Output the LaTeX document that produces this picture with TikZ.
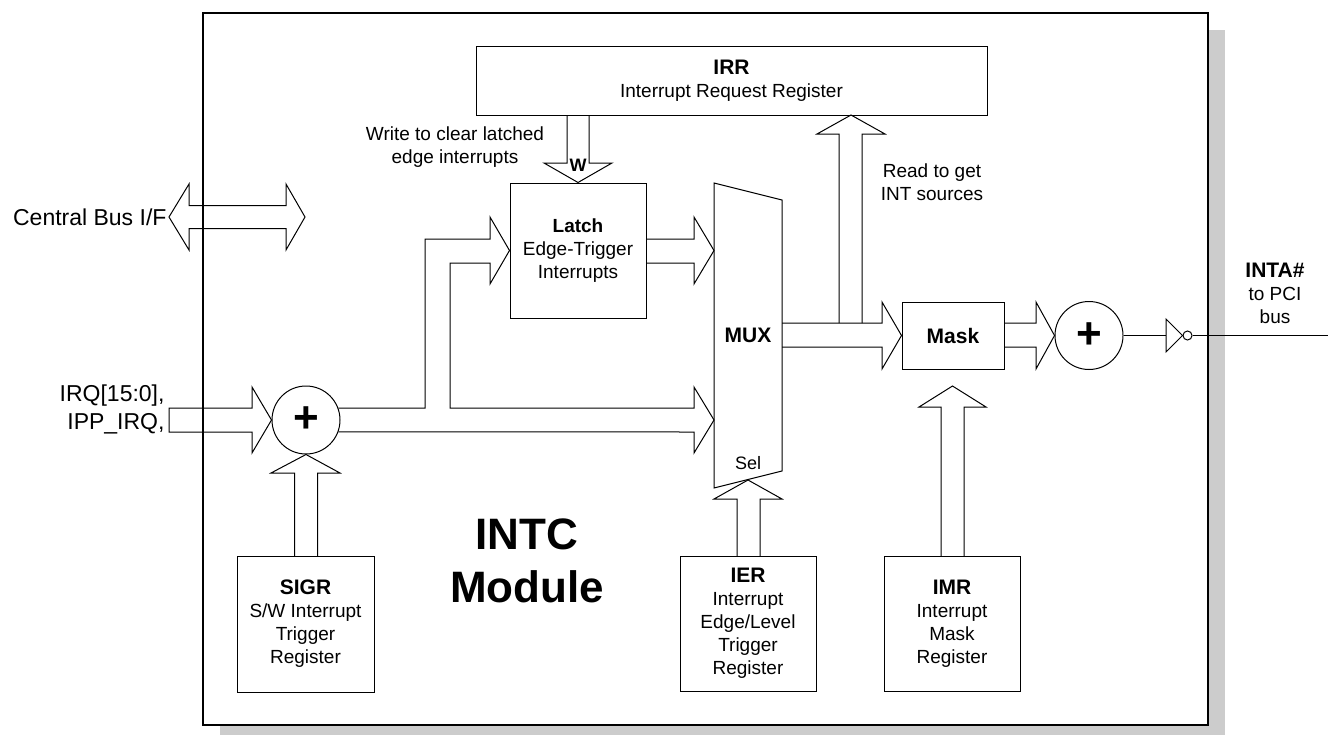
\documentclass[tikz,border=0pt]{standalone}
\usepackage{fontspec}
\setmainfont{Liberation Sans}
\newcommand{\regname}[1]{{\bfseries\fontsize{21}{23}\selectfont #1}}

\begin{document}
\begin{tikzpicture}[x=1pt, y=-1pt, line width=1pt,
  txt/.style={font=\fontsize{19}{23}\selectfont, align=center},
  lbl/.style={font=\fontsize{23}{28}\selectfont, align=right, anchor=east, inner sep=2pt},
  reg/.style={draw, txt, inner sep=0pt, minimum width=136, minimum height=135},
  adder/.style={draw, circle, inner sep=0pt, minimum size=68, font=\bfseries\fontsize{44}{44}\selectfont}]
  \useasboundingbox (0,0) rectangle (1335,734);

  % module frame with shadow
  \fill[gray!40] (220,30) rectangle (1225,742);
  \draw[fill=white, line width=1.3pt] (203,13) rectangle (1208,725);
  \node[font=\bfseries\fontsize{44}{53}\selectfont, align=center] (intc) at (527,561) {INTC\\Module};

  %-------------
  \node[reg, minimum width=511, minimum height=69] (irr) at (731.5,80.5) {\regname{IRR}\\Interrupt Request Register};
  \node[reg] (latch) at (578,250.5) {{\bfseries Latch}\\Edge-Trigger\\Interrupts};
  \node[reg, minimum width=102, minimum height=67] (mask) at (953,335.5) {\regname{Mask}};
  \node[reg, minimum width=137, minimum height=136] (sigr) at (305.5,624) {\regname{SIGR}\\S/W Interrupt\\Trigger\\Register};
  \node[reg] (ier) at (748,623.5) {\regname{IER}\\Interrupt\\Edge/Level\\Trigger\\Register};
  \node[reg] (imr) at (952,623.5) {\regname{IMR}\\Interrupt\\Mask\\Register};

  \node[adder] (add1) at (306,420) {+};
  \node[adder] (add2) at (1089,335.5) {+};

  % mux
  \draw (714,183) -- (782,200) -- (782,471) -- (714,488) -- cycle;
  \node (mux) at (748,335) {\regname{MUX}};
  \node[font=\fontsize{18}{20}\selectfont] (sel) at (748,463) {Sel};
  \coordinate (mux-a) at (714,250.5);
  \coordinate (mux-b) at (714,420);
  \coordinate (mux-s) at (748,480);

  %-------------
  \node[lbl] (cbus) at (169,217) {Central Bus I/F};
  \node[lbl] (irq) at (167,409) {IRQ[15:0],\\IPP\_IRQ,};
  \node[txt] (wnote) at (455,147) {Write to clear latched\\edge interrupts};
  \node[txt] (rnote) at (932,182) {Read to get\\INT sources};
  \node[txt] (inta) at (1275,293) {\regname{INTA\#}\\to PCI\\bus};

  % bus arrows
  \draw (cbus.east) -- (189,184) -- (189,205.5) -- (286,205.5) -- (286,184) -- (305,217)
    -- (286,250) -- (286,228.5) -- (189,228.5) -- (189,250) -- cycle;

  \draw (169,408) -- (252,408) -- (252,387) -- (add1.west) -- (252,453) -- (252,432) -- (169,432) -- cycle;

  \draw (add1.20) -- (425,408) -- (425,239) -- (490,239) -- (490,217) -- (latch.west) -- (490,284)
    -- (490,263) -- (450,263) -- (450,408) -- (694,408) -- (694,387) -- (mux-b) -- (694,453)
    -- (694,432) -- (add1.-20);

  \draw (646,239) -- (694,239) -- (694,217) -- (mux-a) -- (694,284) -- (694,263) -- (646,263);

  \draw (567,115) -- (567,163) -- (544,163) -- (latch.north) -- (612,163) -- (589,163) -- (589,115);
  \node[font=\bfseries\fontsize{18}{20}\selectfont] (w) at (578,165) {W};

  \draw (839,323) -- (839,134) -- (817,134) -- (851,115) -- (885,134) -- (862,134) -- (862,323);

  \draw (782,323) -- (882,323) -- (882,302) -- (mask.west) -- (882,369) -- (882,347) -- (782,347);
  \draw (mask.east |- 0,323) -- (1036,323) -- (1036,302) -- (add2.west) -- (1036,369) -- (1036,347) -- (mask.east |- 0,347);

  \draw (941,556) -- (941,407) -- (919,407) -- (952.5,386) -- (986,407) -- (964,407) -- (964,556);
  \draw (737,556) -- (737,499) -- (714,499) -- (mux-s) -- (782,499) -- (760,499) -- (760,556);
  \draw (294.5,556) -- (294.5,473) -- (271,473) -- (add1.south) -- (340,473) -- (317.5,473) -- (317.5,556);

  %-------------
  \node[draw, circle, inner sep=0pt, minimum size=9] (bub) at (1187.5,335.5) {};
  \draw (1166,319) -- (bub.west) -- (1166,352) -- cycle;
  \draw (add2.east) -- (1166,335.5);
  \draw (bub.east) -- (1328,335.5) coordinate (pci);

\end{tikzpicture}
\end{document}
